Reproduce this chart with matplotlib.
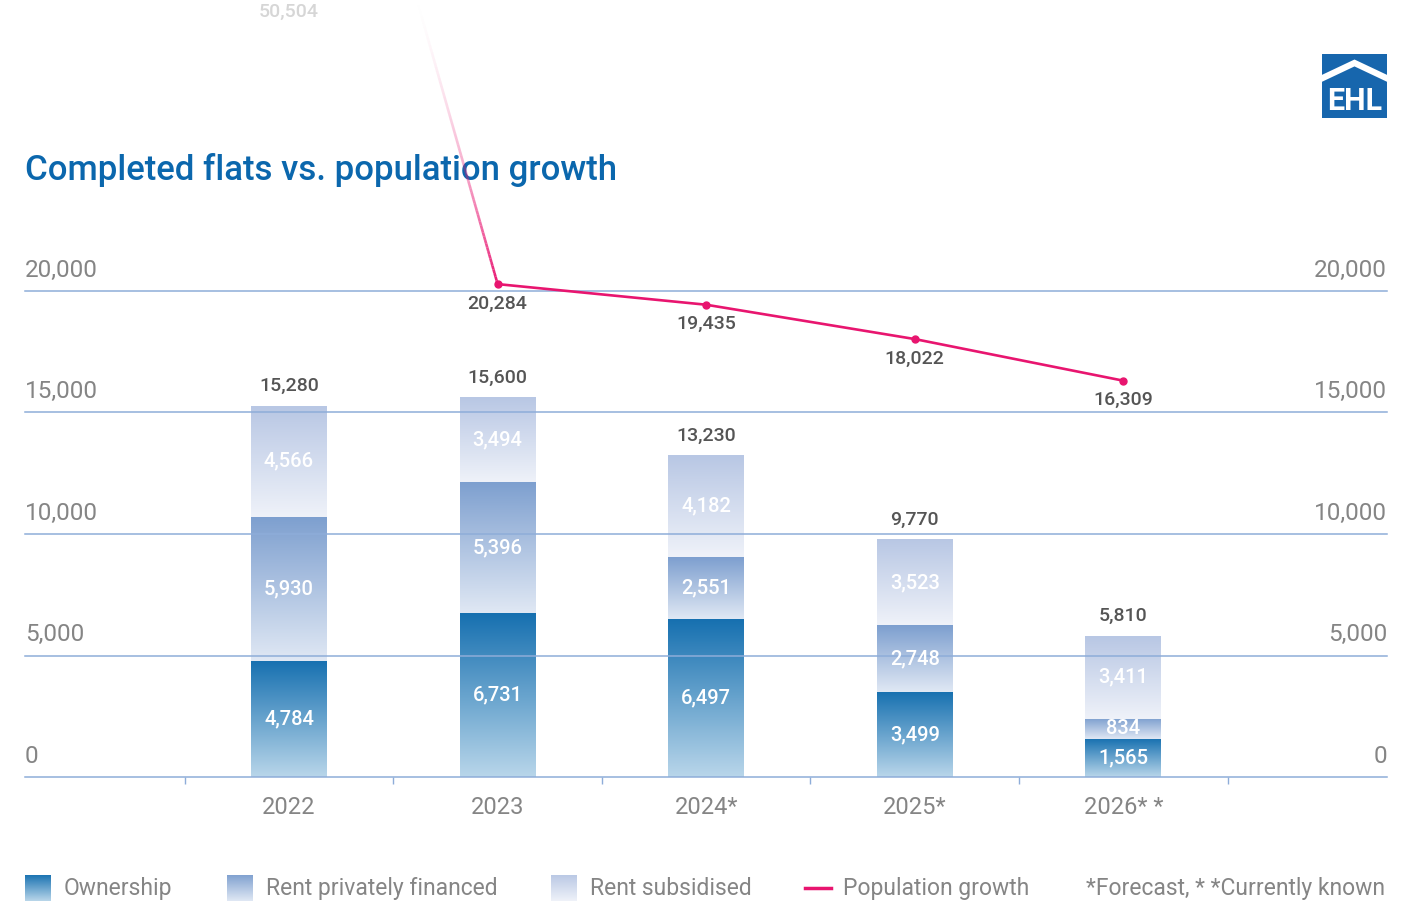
import matplotlib.pyplot as plt
import numpy as np
from matplotlib.colors import LinearSegmentedColormap
from matplotlib.collections import LineCollection
from matplotlib.patches import Rectangle
import matplotlib.transforms as mtransforms

plt.rcParams['font.family'] = ['Roboto', 'DejaVu Sans']

# donnees
years = ["2022", "2023", "2024*", "2025*", "2026* *"]
ownership = [4784, 6731, 6497, 3499, 1565]
rent_private = [5930, 5396, 2551, 2748, 834]
rent_subsidised = [4566, 3494, 4182, 3523, 3411]
totals = [15280, 15600, 13230, 9770, 5810]
population = [50504, 20284, 19435, 18022, 16309]
y_ticks = [0, 5000, 10000, 15000, 20000]

series = [
    ("Ownership", ownership, "#b9d6ea", "#1670b0"),
    ("Rent privately financed", rent_private, "#e0e8f4", "#7d9fcf"),
    ("Rent subsidised", rent_subsidised, "#eff2f9", "#b8c7e4"),
]
pink = "#e8156f"
grid_col = "#8eadd9"
grey_txt = "#858585"
dark_txt = "#555555"

W, H = 1414, 905
fig = plt.figure(figsize=(W / 100, H / 100), dpi=100)

def px(x0, y0, x1, y1):
    # rectangle en pixels (origine en haut a gauche) -> coordonnees figure
    return [x0 / W, 1 - y1 / H, (x1 - x0) / W, (y1 - y0) / H]

ax = fig.add_axes(px(25, 291, 1387, 777))
ax.patch.set_visible(False)
for s in ax.spines.values():
    s.set_visible(False)

grad = np.linspace(0, 1, 256).reshape(-1, 1)
bar_w = 0.364

# barres empilees avec degrade
bottoms = np.zeros(len(years))
for name, vals, c_bot, c_top in series:
    cmap = LinearSegmentedColormap.from_list(name, [c_bot, c_top])
    for i, v in enumerate(vals):
        ax.imshow(grad, extent=[i - bar_w / 2, i + bar_w / 2, bottoms[i], bottoms[i] + v],
                  origin='lower', cmap=cmap, aspect='auto', zorder=2, interpolation='bicubic')
        ax.text(i, bottoms[i] + v / 2, f"{v:,}", ha='center', va='center', color='white',
                fontsize=14.5, fontweight='medium', zorder=6)
    bottoms += np.array(vals)

for i, t in enumerate(totals):
    ax.annotate(f"{t:,}", xy=(i, bottoms[i]), xytext=(0, 14), textcoords='offset points',
                ha='center', va='center', color=dark_txt, fontsize=14, fontweight='medium',
                annotation_clip=False)

# lignes horizontales + valeurs des deux cotes
for v in y_ticks:
    ax.axhline(v, color=grid_col, lw=1.1, zorder=3, clip_on=False)
    ax.annotate(f"{v:,}", xy=(0, v), xycoords=('axes fraction', 'data'), xytext=(0, 15),
                textcoords='offset points', ha='left', va='center', color=grey_txt, fontsize=17.5)
    ax.annotate(f"{v:,}", xy=(1, v), xycoords=('axes fraction', 'data'), xytext=(0, 15),
                textcoords='offset points', ha='right', va='center', color=grey_txt, fontsize=17.5)

ax.set_xlim(-1.266, 5.264)
ax.set_ylim(0, 20000)
ax.set_yticks([])
ax.set_xticks(np.arange(-0.5, len(years), 1))
ax.set_xticklabels([])
ax.tick_params(axis='x', which='major', length=5, width=1, color=grid_col)
ax.set_xticks(range(len(years)), minor=True)
ax.set_xticklabels(years, minor=True)
ax.tick_params(axis='x', which='minor', length=0, pad=14, labelsize=17, labelcolor=grey_txt)

# courbe population : premier segment en fondu
x = np.arange(len(years))
n = 200
tt = np.linspace(0, 1, n + 1)
xs = x[0] + (x[1] - x[0]) * tt
ys = population[0] + (population[1] - population[0]) * tt
segs = [[(xs[k], ys[k]), (xs[k + 1], ys[k + 1])] for k in range(n)]
alphas = np.clip((tt[:-1] - 0.6) / 0.4, 0, 1) ** 2
cols = [(0.91, 0.08, 0.44, a) for a in alphas]
lc = LineCollection(segs, colors=cols, linewidths=1.9, zorder=5, clip_on=False)
ax.add_collection(lc)
ax.plot(x[1:], population[1:], color=pink, lw=1.9, marker='o', ms=5, zorder=5, clip_on=False)

for i in range(1, len(years)):
    ax.annotate(f"{population[i]:,}", xy=(i, population[i]), xytext=(0, -14),
                textcoords='offset points', ha='center', va='center', color=dark_txt,
                fontsize=14, fontweight='medium', annotation_clip=False)
trans = mtransforms.blended_transform_factory(ax.transData, fig.transFigure)
ax.text(0, 1 - 12 / H, f"{population[0]:,}", transform=trans, ha='center', va='center',
        color='#d6d6d6', fontsize=14, fontweight='medium')

# titre
ax.text(25 / W, 1 - 170 / H, "Completed flats vs. population growth", transform=fig.transFigure,
        ha='left', va='center', color='#0b67ad', fontsize=25, fontweight='medium', zorder=1)

# legende
leg_y = 888
sw_x = [25, 227, 551]
txt_x = [64, 266, 590]
for (name, vals, c_bot, c_top), sx, tx in zip(series, sw_x, txt_x):
    sax = fig.add_axes(px(sx, 875, sx + 26, 901))
    sax.imshow(grad, origin='lower', aspect='auto',
               cmap=LinearSegmentedColormap.from_list(name + "_l", [c_bot, c_top]))
    sax.axis('off')
    fig.text(tx / W, 1 - leg_y / H, name, ha='left', va='center', color=grey_txt, fontsize=16.5)
fig.add_artist(plt.Line2D([805 / W, 831 / W], [1 - leg_y / H] * 2, color=pink, lw=2.5))
fig.text(843 / W, 1 - leg_y / H, "Population growth", ha='left', va='center',
         color=grey_txt, fontsize=16.5)
fig.text(1385 / W, 1 - leg_y / H, "*Forecast, * *Currently known", ha='right', va='center',
         color=grey_txt, fontsize=16.5)

# logo EHL
lax = fig.add_axes(px(1322, 54, 1387, 118))
lax.set_xlim(0, 1)
lax.set_ylim(0, 1)
lax.axis('off')
lax.add_patch(Rectangle((0, 0), 1, 1, color='#1766ad'))
lax.plot([0, 0.5, 1], [0.62, 0.86, 0.62], color='white', lw=4.5, solid_joinstyle='miter')
lax.text(0.5, 0.27, "EHL", ha='center', va='center', color='white', fontsize=22, fontweight='bold')

fig.savefig("out.png", dpi=100)
